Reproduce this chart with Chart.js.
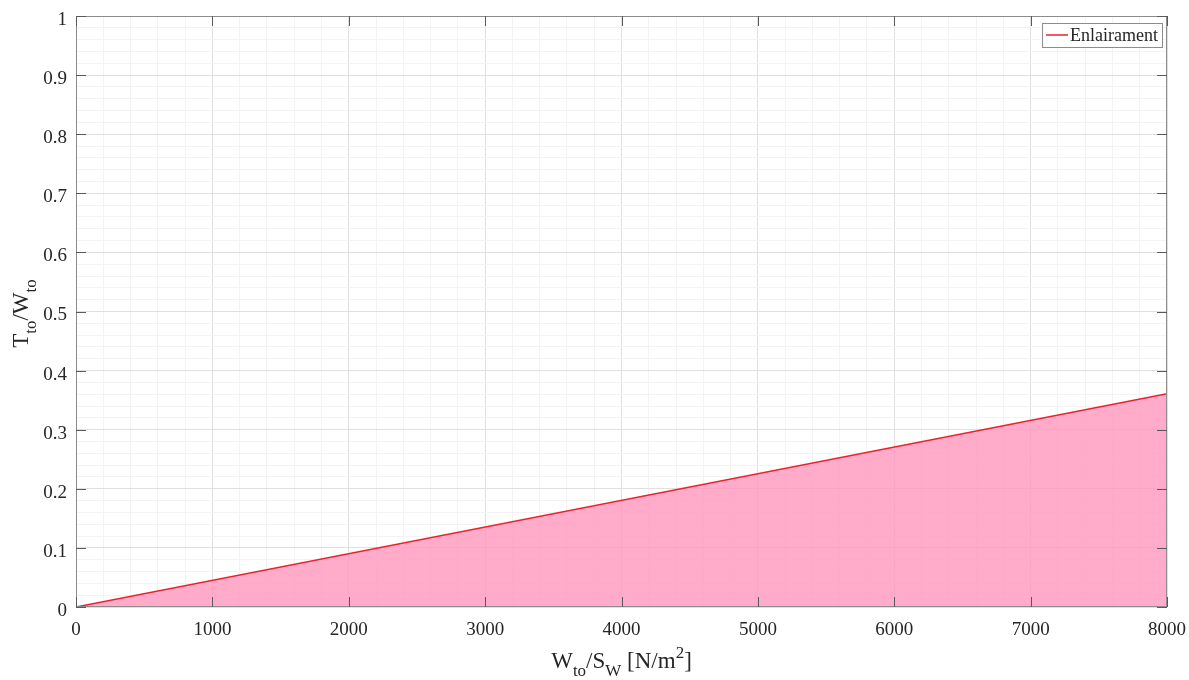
<!DOCTYPE html>
<html>
<head>
<meta charset="utf-8">
<script src="https://cdn.jsdelivr.net/npm/chart.js@4.4.0/dist/chart.umd.min.js"></script>
<style>
  html, body { margin: 0; padding: 0; background: #fff; }
  #wrap { width: 1189px; height: 680px; }
</style>
</head>
<body>
<div id="wrap"><canvas id="chart"></canvas></div>
<script>
// data (straight line from origin)
const wingLoading = [0, 8000];          // W_to/S_W [N/m^2]
const thrustToWeight = [0, 0.361];      // T_to/W_to
const xMajorTicks = [0, 1000, 2000, 3000, 4000, 5000, 6000, 7000, 8000];
const yMajorTicks = [0, 0.1, 0.2, 0.3, 0.4, 0.5, 0.6, 0.7, 0.8, 0.9, 1];
const seriesLabel = "Enlairament";

const serif = "'Liberation Serif', 'Times New Roman', serif";
const textColor = "#262626";
const frameColor = "#8c8c8c";

function isMajorX(v) { return Math.round(v) % 1000 === 0; }
function isMajorY(v) { return Math.round(v * 100) % 10 === 0; }

// draws text with sub/superscripts, centred on (cx, baseline)
function drawRich(ctx, parts, cx, baseY, size, smallSize) {
  let total = 0;
  parts.forEach(p => {
    ctx.font = (p.sub || p.sup ? smallSize : size) + "px " + serif;
    p.w = ctx.measureText(p.t).width;
    total += p.w;
  });
  let x = cx - total / 2;
  ctx.textAlign = "left";
  ctx.textBaseline = "alphabetic";
  parts.forEach(p => {
    ctx.font = (p.sub || p.sup ? smallSize : size) + "px " + serif;
    let dy = p.sub ? 8 : (p.sup ? -10 : 0);
    ctx.fillText(p.t, x, baseY + dy);
    x += p.w;
  });
}

const matlabFrame = {
  id: "matlabFrame",
  afterDraw(chart) {
    const ctx = chart.ctx;
    const a = chart.chartArea;
    const xs = chart.scales.x, ys = chart.scales.y;
    ctx.save();

    // box around axes
    ctx.strokeStyle = frameColor;
    ctx.lineWidth = 1;
    ctx.strokeRect(a.left + 0.5, a.top + 0.5, a.right - a.left - 1, a.bottom - a.top - 1);

    // inward major tick marks on all four sides
    ctx.strokeStyle = "#5a5a5a";
    ctx.beginPath();
    xMajorTicks.forEach(v => {
      const px = Math.round(xs.getPixelForValue(v)) + 0.5;
      ctx.moveTo(px, a.bottom); ctx.lineTo(px, a.bottom - 10);
      ctx.moveTo(px, a.top); ctx.lineTo(px, a.top + 10);
    });
    yMajorTicks.forEach(v => {
      const py = Math.round(ys.getPixelForValue(v)) + 0.5;
      ctx.moveTo(a.left, py); ctx.lineTo(a.left + 10, py);
      ctx.moveTo(a.right, py); ctx.lineTo(a.right - 10, py);
    });
    ctx.stroke();

    // axis titles
    ctx.fillStyle = textColor;
    drawRich(ctx, [
      { t: "W" }, { t: "to", sub: true }, { t: "/S" }, { t: "W", sub: true },
      { t: " [N/m" }, { t: "2", sup: true }, { t: "]" }
    ], (a.left + a.right) / 2, 668, 23, 17);

    ctx.save();
    ctx.translate(28, (a.top + a.bottom) / 2 + 2);
    ctx.rotate(-Math.PI / 2);
    drawRich(ctx, [
      { t: "T" }, { t: "to", sub: true }, { t: "/W" }, { t: "to", sub: true }
    ], 0, 0, 23, 17);
    ctx.restore();

    // legend box
    const ds = chart.data.datasets[0];
    ctx.font = "18px " + serif;
    const tw = ctx.measureText(ds.label).width;
    const boxW = 4 + 22 + 2 + tw + 4;
    const boxH = 24;
    const bx = a.right - 5 - boxW;
    const by = a.top + 7;
    ctx.fillStyle = "#fff";
    ctx.fillRect(bx, by, boxW, boxH);
    ctx.strokeStyle = "#8c8c8c";
    ctx.strokeRect(bx + 0.5, by + 0.5, boxW, boxH);
    ctx.strokeStyle = ds.borderColor;
    ctx.lineWidth = 1.5;
    ctx.beginPath();
    ctx.moveTo(bx + 4, by + boxH / 2);
    ctx.lineTo(bx + 26, by + boxH / 2);
    ctx.stroke();
    ctx.fillStyle = textColor;
    ctx.textAlign = "left";
    ctx.textBaseline = "middle";
    ctx.fillText(ds.label, bx + 28, by + boxH / 2 + 1);

    ctx.restore();
  }
};

new Chart(document.getElementById("chart"), {
  type: "line",
  data: {
    datasets: [{
      label: seriesLabel,
      data: wingLoading.map((x, i) => ({ x: x, y: thrustToWeight[i] })),
      borderColor: "#e8232f",
      borderWidth: 1.5,
      backgroundColor: "rgba(255,150,188,0.8)",
      fill: "origin",
      pointRadius: 0,
      tension: 0
    }]
  },
  options: {
    responsive: true,
    maintainAspectRatio: false,
    animation: false,
    devicePixelRatio: 1,
    layout: { padding: { top: 16, right: 22, left: 0, bottom: 0 } },
    plugins: {
      legend: { display: false },
      tooltip: { enabled: false }
    },
    scales: {
      x: {
        type: "linear",
        min: 0,
        max: 8000,
        afterFit: s => { s.height = 73; s.paddingLeft = 0; s.paddingRight = 0; },
        ticks: {
          stepSize: 200,
          autoSkip: false,
          maxRotation: 0,
          padding: 12,
          color: textColor,
          font: { family: serif, size: 19 },
          callback: v => isMajorX(v) ? String(v) : ""
        },
        grid: {
          drawTicks: false,
          color: c => (c.tick && isMajorX(c.tick.value)) ? "#e0e0e0" : "#f3f3f3"
        },
        border: { display: false }
      },
      y: {
        type: "linear",
        min: 0,
        max: 1,
        afterFit: s => { s.width = 76; s.paddingTop = 0; s.paddingBottom = 0; },
        ticks: {
          stepSize: 0.02,
          autoSkip: false,
          padding: 9,
          labelOffset: 4,
          color: textColor,
          font: { family: serif, size: 19 },
          callback: v => isMajorY(v) ? String(Math.round(v * 10) / 10) : ""
        },
        grid: {
          drawTicks: false,
          color: c => (c.tick && isMajorY(c.tick.value)) ? "#e0e0e0" : "#f3f3f3"
        },
        border: { display: false }
      }
    }
  },
  plugins: [matlabFrame]
});
</script>
</body>
</html>
